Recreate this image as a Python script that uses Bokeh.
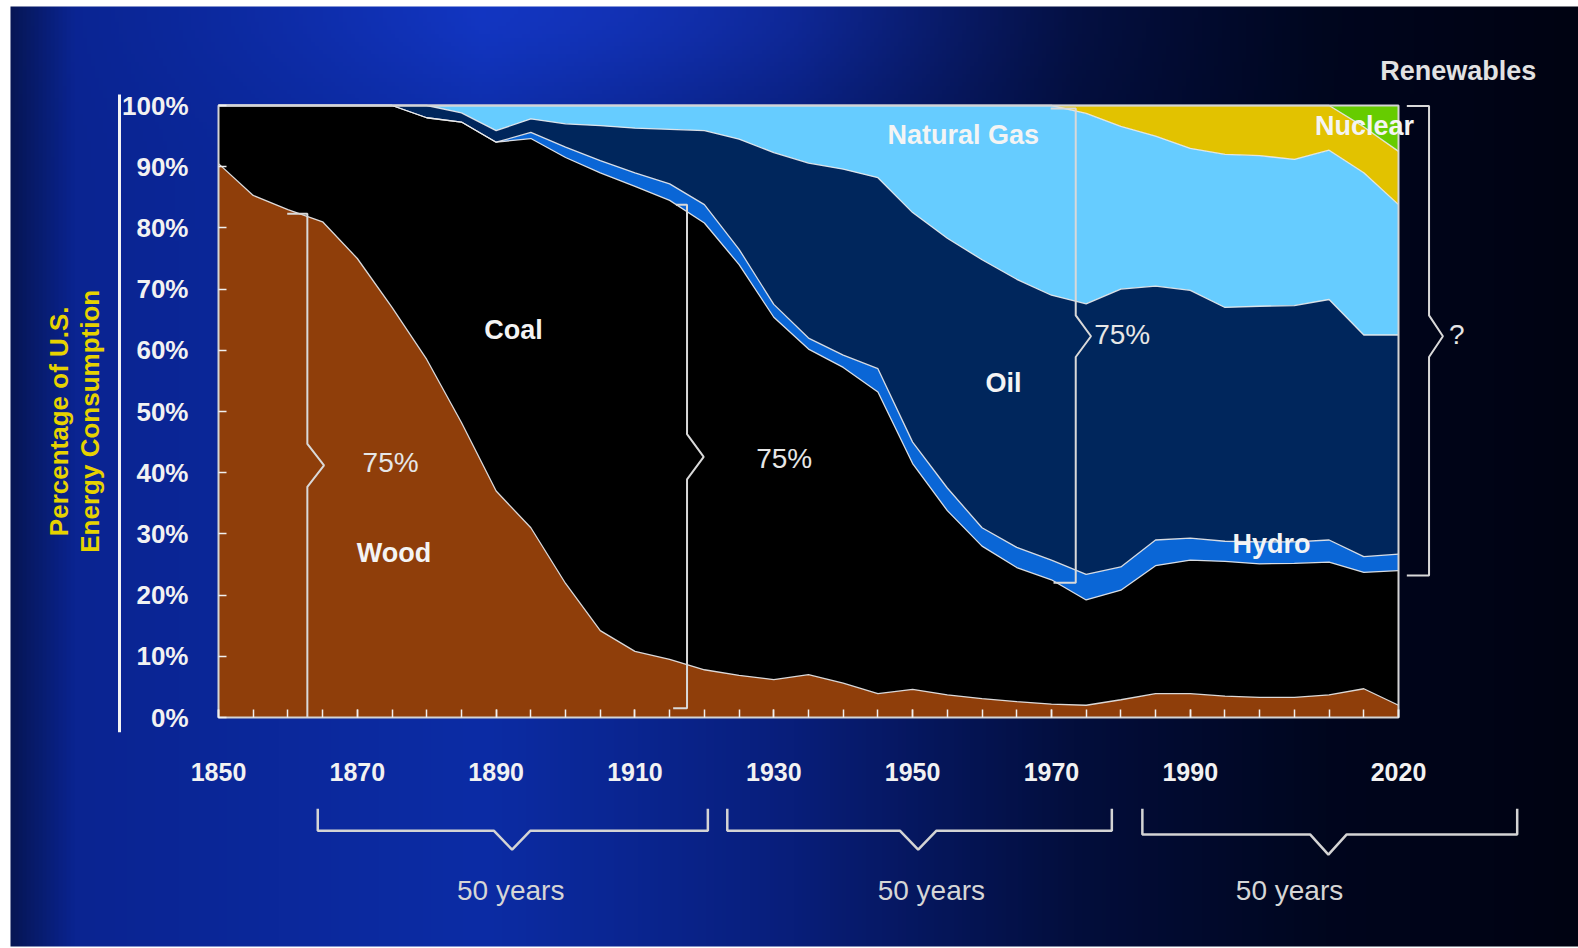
import numpy as np
from bokeh.plotting import figure
from bokeh.models import ColumnDataSource, FixedTicker, Range1d
from bokeh.core.properties import value
from bokeh.embed import file_html
from bokeh.resources import INLINE

# ---------------- data (share of U.S. energy consumption, %) ----------------
years = [1850, 1855, 1860, 1865, 1870, 1875, 1880, 1885, 1890, 1895, 1900, 1905,
         1910, 1915, 1920, 1925, 1930, 1935, 1940, 1945, 1950, 1955, 1960, 1965,
         1970, 1975, 1980, 1985, 1990, 1995, 2000, 2005, 2010, 2015, 2020]
wood = [90.5, 85.3, 83.0, 81.0, 75.0, 67.0, 58.5, 48.2, 37.0, 31.0, 21.9, 14.2,
        10.8, 9.5, 7.8, 6.9, 6.2, 7.0, 5.6, 3.9, 4.6, 3.7, 3.1, 2.6,
        2.2, 2.0, 2.9, 3.9, 3.9, 3.5, 3.3, 3.3, 3.7, 4.7, 2.0]
coal = [9.5, 14.7, 17.0, 19.0, 25.0, 33.0, 39.5, 49.1, 57.0, 63.6, 69.6, 74.8,
        76.0, 75.0, 73.0, 67.1, 59.2, 53.2, 51.6, 49.3, 36.9, 30.1, 24.9, 21.9,
        20.3, 17.2, 17.9, 20.9, 21.8, 22.0, 21.8, 21.9, 21.7, 19.0, 22.0]
hydro = [0, 0, 0, 0, 0, 0, 0, 0, 0, 1.0, 1.7, 2.0,
         2.2, 2.7, 3.0, 2.5, 2.1, 1.8, 2.0, 3.8, 3.5, 3.7, 3.0, 3.3,
         3.2, 4.2, 3.8, 4.2, 3.6, 3.3, 3.6, 3.5, 3.6, 2.6, 2.7]
oil = [0, 0, 0, 0, 0, 0, 2.0, 1.5, 1.9, 2.2, 3.8, 5.7,
       7.3, 8.9, 12.1, 18.0, 24.8, 28.6, 30.4, 31.2, 37.5, 40.8, 43.8, 43.8,
       43.3, 44.2, 45.4, 41.5, 40.5, 38.2, 38.5, 38.6, 39.3, 36.2, 35.8]
natural_gas = [0, 0, 0, 0, 0, 0, 0, 1.2, 4.1, 2.2, 3.0, 3.3,
               3.7, 3.9, 4.1, 5.5, 7.7, 9.4, 10.4, 11.8, 17.5, 21.7, 25.2, 28.4,
               31.0, 31.1, 26.6, 24.5, 23.2, 25.0, 24.6, 23.9, 24.4, 26.5, 21.3]
nuclear = [0, 0, 0, 0, 0, 0, 0, 0, 0, 0, 0, 0,
           0, 0, 0, 0, 0, 0, 0, 0, 0, 0, 0, 0,
           0, 1.3, 3.4, 5.0, 7.0, 8.0, 8.2, 8.8, 7.3, 7.5, 8.7]
renewables = [0, 0, 0, 0, 0, 0, 0, 0, 0, 0, 0, 0,
              0, 0, 0, 0, 0, 0, 0, 0, 0, 0, 0, 0,
              0, 0, 0, 0, 0, 0, 0, 0, 0, 3.5, 7.5]

layer_keys = ["wood", "coal", "hydro", "oil", "natural_gas", "nuclear", "renewables"]
layer_colors = ["#8f3e0a", "#000000", "#0a66d6", "#00265c", "#66ccff", "#e2c200", "#66cc00"]

x_ticks = [1850, 1870, 1890, 1910, 1930, 1950, 1970, 1990, 2020]
y_ticks = [0, 10, 20, 30, 40, 50, 60, 70, 80, 90, 100]

# area labels
area_labels = ["Wood", "Coal", "Oil", "Hydro", "Natural Gas", "Nuclear"]
area_label_x = [1875.3, 1892.5, 1963.1, 2001.7, 1957.3, 2015.1]
area_label_y = [26.9, 63.3, 54.6, 28.4, 95.1, 96.6]

share_labels = ["75%", "75%", "75%", "?"]
share_label_x = [1874.8, 1931.5, 1980.2, 2028.4]
share_label_y = [41.7, 42.3, 62.6, 62.6]

span_labels = ["50 years", "50 years", "50 years"]
span_label_x = [1892.1, 1952.7, 2004.3]
span_label_y = [-28.3, -28.3, -28.3]

# vertical braces: x, bottom, top, notch centre, notch half height, notch depth, top tick, bottom tick
vbraces = [
    (1862.8, 0.0, 82.3, 41.2, 3.5, 2.4, 2.9, 0.0),
    (1917.5, 1.5, 83.8, 42.6, 3.7, 2.4, 1.6, 2.0),
    (1973.5, 22.0, 99.5, 62.3, 3.4, 2.2, 3.6, 3.2),
    (2024.4, 23.2, 99.9, 62.3, 3.4, 2.0, 3.2, 3.2),
]
# bottom braces: left, right, centre, V half width, top, bar, tip
hbraces = [
    (1864.3, 1920.5, 1892.3, 2.64, -14.9, -18.5, -21.6),
    (1923.3, 1978.7, 1950.8, 2.64, -14.9, -18.5, -21.6),
    (1983.1, 2037.1, 2009.9, 2.64, -14.9, -19.1, -22.4),
]

# ---------------- layout ----------------
W, H = 1578, 948
FL, FT, FW, FH = 218, 105, 1180, 612
x0, x1 = years[0], years[-1]
ppy = FW / (x1 - x0)
ppp = FH / 100.0
xr = Range1d(x0 - FL / ppy, x0 + (W - FL) / ppy)
yr = Range1d(-(H - FT - FH) / ppp, 100 + FT / ppp)

p = figure(width=W, height=H, x_range=xr, y_range=yr, output_backend="svg",
           toolbar_location=None, min_border=0, title=None)
p.outline_line_color = None
p.background_fill_color = "#ffffff"
p.border_fill_color = "#ffffff"
p.xgrid.visible = False
p.ygrid.visible = False

# background gradient (starts 10px from the left, 6px from the top)
ny, nx = 236, 392
uu = np.linspace(0, 1, nx)
vv = np.linspace(0, 1, ny)
su = [0.0, 0.04, 0.3, 0.5, 0.68, 0.84, 1.0]
rr = np.interp(uu, su, [6, 10, 12, 8, 3, 0, 0])
gg = np.interp(uu, su, [22, 36, 44, 30, 14, 6, 3])
bb = np.interp(uu, su, [85, 145, 165, 122, 60, 30, 18])
U, V = np.meshgrid(uu, vv)
glow = np.exp(-((U - 0.4) / 0.22) ** 2 - (V / 0.1) ** 2)
R = np.clip(rr[None, :] + 8 * glow, 0, 255)
G = np.clip(gg[None, :] + 12 * glow, 0, 255)
B = np.clip(bb[None, :] + 35 * glow, 0, 255)
img = np.empty((ny, nx), dtype=np.uint32)
view = img.view(dtype=np.uint8).reshape((ny, nx, 4))
view[:, :, 0] = R[::-1]
view[:, :, 1] = G[::-1]
view[:, :, 2] = B[::-1]
view[:, :, 3] = 255
bg_left = xr.start + 10 / ppy
bg_top = yr.end - 6 / ppp
bg_bottom = yr.start + 2 / ppp
p.image_rgba(image=[img], x=bg_left, y=bg_bottom, dw=xr.end - bg_left, dh=bg_top - bg_bottom)

# stacked areas
src = ColumnDataSource(dict(year=years, wood=wood, coal=coal, hydro=hydro, oil=oil,
                            natural_gas=natural_gas, nuclear=nuclear, renewables=renewables))
p.varea_stack(stackers=layer_keys, x="year", color=layer_colors, source=src)
p.vline_stack(stackers=layer_keys[:-1], x="year", color="#eeeeee", line_width=1.3,
              line_alpha=0.9, source=src)

# chart frame
p.quad(left=[x0], right=[x1], bottom=[y_ticks[0]], top=[y_ticks[-1]], fill_alpha=0,
       line_color="#d4d4d4", line_width=2)

# line to the left of the percentage labels
p.line(x=[x0 - 99 / ppy, x0 - 99 / ppy], y=[-2.4, 101.8], line_color="#f4f4f4", line_width=3)

# braces
bx, by = [], []
for x, yb, yt, ym, hh, dd, tt, tb in vbraces:
    bx.append([x - tt, x, x, x + dd, x, x, x - tb])
    by.append([yt, yt, ym + hh, ym, ym - hh, yb, yb])
p.multi_line(xs=bx, ys=by, line_color="#d9d9d9", line_width=2)
hx, hy = [], []
for xl, xrr, xc, hw, ytop, ybar, ytip in hbraces:
    hx.append([xl, xl, xc - hw, xc, xc + hw, xrr, xrr])
    hy.append([ytop, ybar, ybar, ytip, ybar, ybar, ytop])
p.multi_line(xs=hx, ys=hy, line_color="#d4d4d4", line_width=2.5)

SANS = value("Liberation Sans")

# labels
p.text(x=area_label_x, y=area_label_y, text=area_labels, text_color="#f4f4f4",
       text_font=SANS, text_font_style="bold", text_font_size="27px",
       text_align="center", text_baseline="middle")
p.text(x=[2028.6], y=[105.6], text=["Renewables"], text_color="#e2e2e2",
       text_font=SANS, text_font_style="bold", text_font_size="27px",
       text_align="center", text_baseline="middle")
p.text(x=share_label_x, y=share_label_y, text=share_labels, text_color="#e6e6e6",
       text_font=SANS, text_font_size="28px", text_align="center", text_baseline="middle")
p.text(x=span_label_x, y=span_label_y, text=span_labels, text_color="#d6d6d6",
       text_font=SANS, text_font_size="28px", text_align="center", text_baseline="middle")
p.text(x=[x0 - 160 / ppy, x0 - 129 / ppy], y=[48.4, 48.4],
       text=["Percentage of U.S.", "Energy Consumption"], angle=np.pi / 2,
       text_color="#e6d200", text_font=SANS, text_font_style="bold", text_font_size="26px",
       text_align="center", text_baseline="middle")

# axes, placed at the chart frame
xa = p.xaxis[0]
xa.fixed_location = 0
xa.bounds = (x0, x1)
xa.ticker = FixedTicker(ticks=x_ticks, minor_ticks=years)
xa.axis_line_color = None
xa.major_tick_in = 8
xa.major_tick_out = 0
xa.minor_tick_in = 8
xa.minor_tick_out = 0
xa.major_tick_line_color = "#f0f0f0"
xa.minor_tick_line_color = "#f0f0f0"
xa.major_tick_line_width = 1.5
xa.minor_tick_line_width = 1.5
xa.major_label_standoff = 45
xa.major_label_text_font = "Liberation Sans"
xa.major_label_text_font_style = "bold"
xa.major_label_text_font_size = "25px"
xa.major_label_text_color = "#f2f2f2"

ya = p.yaxis[0]
ya.fixed_location = x0
ya.bounds = (0, 100)
ya.ticker = FixedTicker(ticks=y_ticks)
ya.major_label_overrides = {t: f"{t}%" for t in y_ticks}
ya.axis_line_color = None
ya.major_tick_in = 8
ya.major_tick_out = 0
ya.minor_tick_line_color = None
ya.major_tick_line_color = "#f0f0f0"
ya.major_tick_line_width = 1.5
ya.major_label_standoff = 30
ya.major_label_text_font = "Liberation Sans"
ya.major_label_text_font_style = "bold"
ya.major_label_text_font_size = "26px"
ya.major_label_text_color = "#f2f2f2"

open("out.html", "w").write(file_html(p, INLINE))
